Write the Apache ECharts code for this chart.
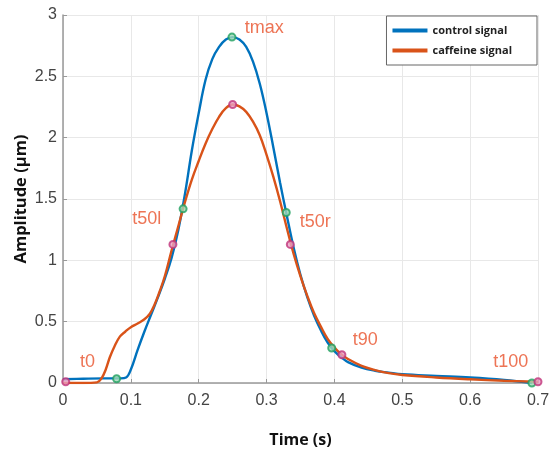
<!DOCTYPE html>
<html>
<head>
<meta charset="utf-8">
<script src="https://cdn.jsdelivr.net/npm/echarts@6/dist/echarts.min.js"></script>
<style>html,body{margin:0;padding:0;background:#fff;}#c{width:551px;height:450px;}</style>
</head>
<body>
<div id="c"></div>
<script>
const controlX = [0, 0.03, 0.06, 0.085, 0.093, 0.1, 0.11, 0.12, 0.13, 0.14, 0.15, 0.16, 0.17, 0.18, 0.19, 0.2, 0.21, 0.22, 0.23, 0.24, 0.25, 0.26, 0.27, 0.28, 0.29, 0.3, 0.31, 0.32, 0.33, 0.34, 0.35, 0.36, 0.37, 0.38, 0.39, 0.4, 0.41, 0.42, 0.44, 0.46, 0.48, 0.5, 0.55, 0.6, 0.65, 0.691];
const controlY = [0.03, 0.035, 0.038, 0.038, 0.045, 0.11, 0.27, 0.42, 0.56, 0.7, 0.85, 1.02, 1.25, 1.55, 1.9, 2.2, 2.47, 2.64, 2.74, 2.8, 2.82, 2.8, 2.74, 2.62, 2.44, 2.2, 1.92, 1.63, 1.36, 1.1, 0.88, 0.7, 0.55, 0.43, 0.33, 0.26, 0.21, 0.17, 0.125, 0.1, 0.085, 0.072, 0.058, 0.045, 0.025, 0.0];
const caffeineX = [0, 0.03, 0.05, 0.057, 0.063, 0.069, 0.076, 0.084, 0.092, 0.1, 0.11, 0.12, 0.128, 0.135, 0.142, 0.15, 0.16, 0.17, 0.18, 0.19, 0.2, 0.21, 0.22, 0.23, 0.24, 0.25, 0.26, 0.27, 0.28, 0.29, 0.3, 0.31, 0.32, 0.33, 0.34, 0.35, 0.36, 0.37, 0.38, 0.39, 0.4, 0.41, 0.42, 0.44, 0.46, 0.48, 0.5, 0.55, 0.6, 0.65, 0.7];
const caffeineY = [0.0, 0.0, 0.005, 0.04, 0.11, 0.21, 0.3, 0.38, 0.42, 0.455, 0.485, 0.52, 0.565, 0.64, 0.74, 0.87, 1.08, 1.28, 1.48, 1.66, 1.81, 1.95, 2.07, 2.17, 2.24, 2.27, 2.255, 2.21, 2.13, 2.02, 1.86, 1.68, 1.48, 1.26, 1.05, 0.87, 0.71, 0.57, 0.46, 0.36, 0.29, 0.235, 0.195, 0.14, 0.105, 0.08, 0.065, 0.045, 0.03, 0.018, 0.01];
const controlMarkX = [0.079, 0.177, 0.249, 0.329, 0.396, 0.691];
const controlMarkY = [0.035, 1.42, 2.82, 1.39, 0.285, 0.0];
const caffeineMarkX = [0.004, 0.162, 0.25, 0.335, 0.411, 0.70];
const caffeineMarkY = [0.01, 1.13, 2.27, 1.13, 0.23, 0.01];
const annotNames = ['t0', 't50l', 'tmax', 't50r', 't90', 't100'];
const annotX = [0.025, 0.102, 0.268, 0.349, 0.427, 0.634];
const annotY = [0.17, 1.34, 2.89, 1.31, 0.35, 0.17];
const xTicks = [0, 0.1, 0.2, 0.3, 0.4, 0.5, 0.6, 0.7];
const yTicks = [0, 0.5, 1, 1.5, 2, 2.5, 3];

const zip = (a, b) => a.map((v, i) => [v, b[i]]);
const chart = echarts.init(document.getElementById('c'), null, {renderer: 'canvas'});
const BLUE = '#0072BD', ORANGE = '#D95319';
chart.setOption({
  animation: false,
  backgroundColor: '#fff',
  grid: {left: 63, right: 13, top: 15, bottom: 67, containLabel: false, outerBoundsMode: 'none'},
  legend: {
    data: [{name: 'control signal'}, {name: 'caffeine signal'}],
    orient: 'vertical', right: 14, top: 16,
    backgroundColor: '#fff', borderColor: '#666', borderWidth: 1, borderRadius: 0,
    padding: [9, 25, 9, 6], itemGap: 9, itemWidth: 35, itemHeight: 4,
    icon: 'rect',
    textStyle: {fontFamily: 'Open Sans', fontWeight: 'bold', fontSize: 11, color: '#222'}
  },
  xAxis: {
    type: 'value', min: 0, max: 0.7, interval: 0.1,
    name: 'Time (s)', nameLocation: 'middle', nameGap: 49, nameMoveOverlap: false,
    nameTextStyle: {fontFamily: 'Open Sans', fontWeight: 'bold', fontSize: 16, color: '#111'},
    axisLine: {show: true, lineStyle: {color: '#999', width: 1.5}},
    axisTick: {show: true, inside: true, length: 4, lineStyle: {color: '#999'}},
    axisLabel: {fontFamily: 'Liberation Sans', fontSize: 16, color: '#444', margin: 10,
      formatter: v => { const t = xTicks.find(k => Math.abs(k - v) < 1e-6); return t === undefined ? '' : String(t); }},
    splitLine: {show: true, lineStyle: {color: '#e8e8e8'}}
  },
  yAxis: {
    type: 'value', min: 0, max: 3, interval: 0.5,
    name: 'Amplitude (µm)', nameLocation: 'middle', nameGap: 33, nameMoveOverlap: false,
    nameTextStyle: {fontFamily: 'Open Sans', fontWeight: 'bold', fontSize: 16.5, color: '#111'},
    axisLine: {show: true, lineStyle: {color: '#999', width: 1.5}},
    axisTick: {show: true, inside: true, length: 4, lineStyle: {color: '#999'}},
    axisLabel: {fontFamily: 'Liberation Sans', fontSize: 16, color: '#444', margin: 6,
      formatter: v => { const t = yTicks.find(k => Math.abs(k - v) < 1e-6); return t === undefined ? '' : String(t); }},
    splitLine: {show: true, lineStyle: {color: '#e8e8e8'}}
  },
  series: [
    {name: 'control signal', type: 'line', data: zip(controlX, controlY), smooth: 0.4, showSymbol: false,
     lineStyle: {color: BLUE, width: 2.4}, itemStyle: {color: BLUE}, z: 2},
    {name: 'caffeine signal', type: 'line', data: zip(caffeineX, caffeineY), smooth: 0.4, showSymbol: false,
     lineStyle: {color: ORANGE, width: 2.4}, itemStyle: {color: ORANGE}, z: 3},
    {name: 'control markers', type: 'scatter', data: zip(controlMarkX, controlMarkY), symbol: 'circle', symbolSize: 7,
     itemStyle: {color: '#9fd9b5', borderColor: '#20a060', borderWidth: 2}, z: 5},
    {name: 'caffeine markers', type: 'scatter', data: zip(caffeineMarkX, caffeineMarkY), symbol: 'circle', symbolSize: 7,
     itemStyle: {color: '#e8a0c4', borderColor: '#c0357a', borderWidth: 2}, z: 6},
    {name: 'annotations', type: 'scatter', symbolSize: 0,
     data: annotNames.map((n, i) => ({name: n, value: [annotX[i], annotY[i]]})),
     label: {show: true, position: 'right', distance: 0, formatter: p => p.name,
       fontFamily: 'Liberation Sans', fontSize: 18, color: '#E8512A', align: 'left', verticalAlign: 'middle'},
     z: 7, silent: true}
  ]
});
</script>
</body>
</html>
